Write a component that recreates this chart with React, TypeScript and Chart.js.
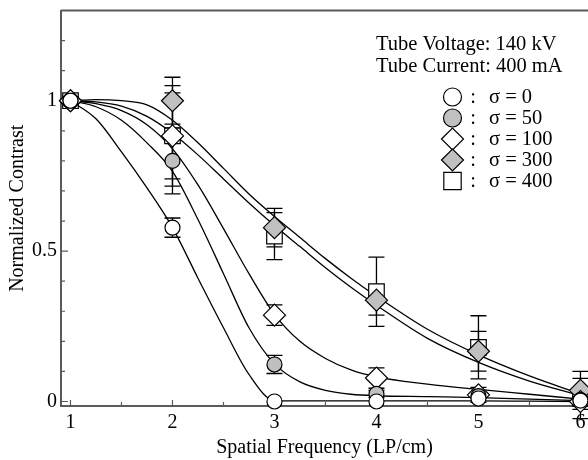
import React, { useEffect, useRef } from "react";
import { Chart, registerables } from "chart.js";
Chart.register(...registerables);

const FONT = "'Liberation Serif', 'Times New Roman', serif";

// measured points
const freq = [1, 2, 3, 4, 5, 6];
const s0 = [1.0, 0.578, 0.0, 0.0, 0.01, 0.003];
const s0Err = [0, 0.032, 0, 0, 0, 0];
const s50 = [1.0, 0.8, 0.123, 0.025, 0.018, 0.005];
const s50Err = [0, 0.11, 0.03, 0.012, 0, 0];
const s100 = [1.0, 0.883, 0.287, 0.078, 0.022, 0.0];
const s100Err = [0, 0.143, 0.034, 0.034, 0.025, 0];
const s300 = [1.0, 1.0, 0.578, 0.337, 0.167, 0.037];
const s300Err = [0, 0.078, 0.064, 0.05, 0.066, 0.063];
const s400 = [1.0, 0.883, 0.55, 0.365, 0.18, 0.01];
const s400Err = [0, 0.167, 0.078, 0.115, 0.105, 0.067];

// fitted curves
const fitX = [1, 1.25, 1.5, 1.75, 2, 2.25, 2.5, 2.75, 3, 3.25, 3.5, 3.75, 4, 4.5, 5, 5.5, 6];
const fit0 = [1, 0.94, 0.83, 0.71, 0.578, 0.41, 0.245, 0.09, 0.003, 0.002, 0.002, 0.002, 0.002, 0.002, 0.002, 0.001, 0.0];
const fit50 = [1, 0.98, 0.935, 0.86, 0.765, 0.605, 0.425, 0.245, 0.125, 0.065, 0.037, 0.024, 0.019, 0.016, 0.013, 0.008, 0.003];
const fit100 = [1, 0.99, 0.967, 0.92, 0.84, 0.72, 0.575, 0.425, 0.29, 0.2, 0.143, 0.105, 0.082, 0.058, 0.04, 0.024, 0.008];
const fitUpper = [1, 1.004, 1.0, 0.986, 0.935, 0.86, 0.775, 0.69, 0.615, 0.545, 0.475, 0.41, 0.35, 0.24, 0.155, 0.085, 0.025];
const fitLower = [1, 0.996, 0.982, 0.948, 0.892, 0.82, 0.74, 0.66, 0.585, 0.515, 0.445, 0.38, 0.32, 0.21, 0.13, 0.068, 0.02];

const xTicks = [1, 2, 3, 4, 5, 6];
const xMinor = [1.5, 2.5, 3.5, 4.5, 5.5];
const yTicks = [0, 0.5, 1];
const yTickLabels = ["0", "0.5", "1"];
const yMinor = [0.1, 0.2, 0.3, 0.4, 0.6, 0.7, 0.8, 0.9, 1.1, 1.2];
const legendLabels = ["\u03c3 = 0", "\u03c3 = 50", "\u03c3 = 100", "\u03c3 = 300", "\u03c3 = 400"];
const infoLines = ["Tube Voltage: 140 kV", "Tube Current: 400 mA"];

const GRAY = "#c0c0c0";
const AXIS = "#5a5a5a";

const markerDefs = [
  { style: "circle", r: 7.5, fill: "#ffffff" },
  { style: "circle", r: 7.5, fill: GRAY },
  { style: "rectRot", r: 11, fill: "#ffffff" },
  { style: "rectRot", r: 11, fill: GRAY },
  { style: "rect", r: 11, fill: "#ffffff" },
];
const seriesVals = [s0, s50, s100, s300, s400];
const seriesErr = [s0Err, s50Err, s100Err, s300Err, s400Err];
const fits = [fit0, fit50, fit100, fitUpper, fitLower];

function drawMarker(ctx: CanvasRenderingContext2D, style: string, x: number, y: number, r: number, fill: string) {
  ctx.beginPath();
  if (style === "circle") {
    ctx.arc(x, y, r, 0, Math.PI * 2);
  } else if (style === "rectRot") {
    ctx.moveTo(x - r, y);
    ctx.lineTo(x, y - r);
    ctx.lineTo(x + r, y);
    ctx.lineTo(x, y + r);
    ctx.closePath();
  } else {
    ctx.rect(x - r, y - r, 2 * r, 2 * r);
  }
  ctx.fillStyle = fill;
  ctx.fill();
  ctx.lineWidth = 1.2;
  ctx.strokeStyle = "#000";
  ctx.stroke();
}

const decorPlugin = {
  id: "decor",
  beforeDatasetsDraw(chart: any) {
    const { ctx, chartArea, scales } = chart;
    const xs = scales.x;
    const ys = scales.y;
    ctx.save();
    ctx.strokeStyle = AXIS;
    ctx.lineWidth = 2;
    ctx.beginPath();
    ctx.moveTo(chartArea.left, chartArea.top);
    ctx.lineTo(chartArea.right, chartArea.top);
    ctx.stroke();
    ctx.lineWidth = 1.2;
    ctx.beginPath();
    yTicks.forEach((v) => {
      const py = ys.getPixelForValue(v);
      ctx.moveTo(chartArea.left, py);
      ctx.lineTo(chartArea.left + 7, py);
    });
    yMinor.forEach((v) => {
      const py = ys.getPixelForValue(v);
      ctx.moveTo(chartArea.left, py);
      ctx.lineTo(chartArea.left + 4, py);
    });
    xTicks.forEach((v) => {
      const px = xs.getPixelForValue(v);
      ctx.moveTo(px, chartArea.bottom);
      ctx.lineTo(px, chartArea.bottom - 6);
    });
    xMinor.forEach((v) => {
      const px = xs.getPixelForValue(v);
      ctx.moveTo(px, chartArea.bottom);
      ctx.lineTo(px, chartArea.bottom - 4);
    });
    ctx.stroke();
    ctx.strokeStyle = "#000";
    ctx.lineWidth = 1.3;
    seriesVals.forEach((vals, si) => {
      const errs = seriesErr[si];
      vals.forEach((v, i) => {
        const e = errs[i];
        if (!e) return;
        const px = xs.getPixelForValue(freq[i]);
        const top = ys.getPixelForValue(v + e);
        const bot = ys.getPixelForValue(v - e);
        ctx.beginPath();
        ctx.moveTo(px, top);
        ctx.lineTo(px, bot);
        ctx.moveTo(px - 8, top);
        ctx.lineTo(px + 8, top);
        ctx.moveTo(px - 8, bot);
        ctx.lineTo(px + 8, bot);
        ctx.stroke();
      });
    });
    ctx.restore();
  },
  afterDraw(chart: any) {
    const { ctx } = chart;
    ctx.save();
    ctx.fillStyle = "#000";
    ctx.font = `20.5px ${FONT}`;
    ctx.textBaseline = "alphabetic";
    ctx.textAlign = "left";
    ctx.fillText(infoLines[0], 376, 50);
    ctx.fillText(infoLines[1], 376, 72);
    const rowY = [97, 118, 139, 160, 181];
    legendLabels.forEach((lab, i) => {
      const m = markerDefs[i];
      const rr = m.style === "circle" ? 9 : m.style === "rectRot" ? 11 : 8.7;
      drawMarker(ctx, m.style, 452.5, rowY[i], rr, m.fill);
      ctx.fillStyle = "#000";
      ctx.textAlign = "center";
      ctx.fillText(":", 473, rowY[i] + 6);
      ctx.textAlign = "left";
      ctx.fillText(lab, 489, rowY[i] + 6);
    });
    ctx.restore();
  },
};

export default function App() {
  const ref = useRef<HTMLCanvasElement | null>(null);
  useEffect(() => {
    if (!ref.current) return;
    Chart.defaults.font.family = FONT;
    const datasets: any[] = [];
    fits.forEach((f, i) => {
      datasets.push({
        label: "fit" + i,
        data: fitX.map((x, k) => ({ x, y: f[k] })),
        showLine: true,
        borderColor: "#000",
        borderWidth: 1.3,
        pointRadius: 0,
        cubicInterpolationMode: "monotone",
        order: 10,
      });
    });
    seriesVals.forEach((vals, i) => {
      const m = markerDefs[i];
      datasets.push({
        label: legendLabels[i],
        data: freq.map((x, k) => ({ x, y: vals[k] })),
        showLine: false,
        pointStyle: m.style,
        pointRadius: m.r,
        pointBackgroundColor: m.fill,
        pointBorderColor: "#000",
        pointBorderWidth: 1.2,
        order: i + 1,
        clip: false,
      });
    });
    const chart = new Chart(ref.current, {
      type: "scatter",
      data: { datasets },
      plugins: [decorPlugin],
      options: {
        animation: false,
        responsive: false,
        layout: { autoPadding: false, padding: { top: 10.5, right: 0, left: 0, bottom: 0 } },
        plugins: { legend: { display: false }, tooltip: { enabled: false } },
        scales: {
          x: {
            type: "linear",
            min: 0.907,
            max: 6.074,
            afterBuildTicks: (s: any) => {
              s.ticks = xTicks.map((v) => ({ value: v }));
            },
            afterFit: (s: any) => {
              s.height = 54;
              s.paddingLeft = 0;
              s.paddingRight = 0;
            },
            grid: { display: false, drawTicks: false },
            border: { display: true, color: AXIS, width: 2 },
            ticks: {
              color: "#000",
              font: { size: 20, family: FONT },
              padding: 5,
              maxRotation: 0,
              callback: (v: any) => String(v),
            },
            title: {
              display: true,
              text: "Spatial Frequency (LP/cm)",
              color: "#000",
              font: { size: 20, family: FONT },
              padding: { top: 0, bottom: 0 },
            },
          },
          y: {
            type: "linear",
            min: -0.015,
            max: 1.3,
            afterBuildTicks: (s: any) => {
              s.ticks = yTicks.map((v) => ({ value: v }));
            },
            afterFit: (s: any) => {
              s.width = 61;
              s.paddingTop = 0;
              s.paddingBottom = 0;
            },
            grid: { display: false, drawTicks: false },
            border: { display: true, color: AXIS, width: 2 },
            ticks: {
              color: "#000",
              font: { size: 20, family: FONT },
              padding: 4,
              callback: (v: any) => {
                const idx = yTicks.indexOf(Number(v));
                return idx >= 0 ? yTickLabels[idx] : "";
              },
            },
            title: {
              display: true,
              text: "Normalized Contrast",
              color: "#000",
              font: { size: 20, family: FONT },
              padding: { top: 6, bottom: 0 },
            },
          },
        },
      },
    } as any);
    return () => chart.destroy();
  }, []);
  return (
    <div style={{ position: "fixed", left: 0, top: 0, width: 588, height: 460, background: "#fff" }}>
      <canvas ref={ref} width={588} height={460} style={{ display: "block" }} />
    </div>
  );
}
